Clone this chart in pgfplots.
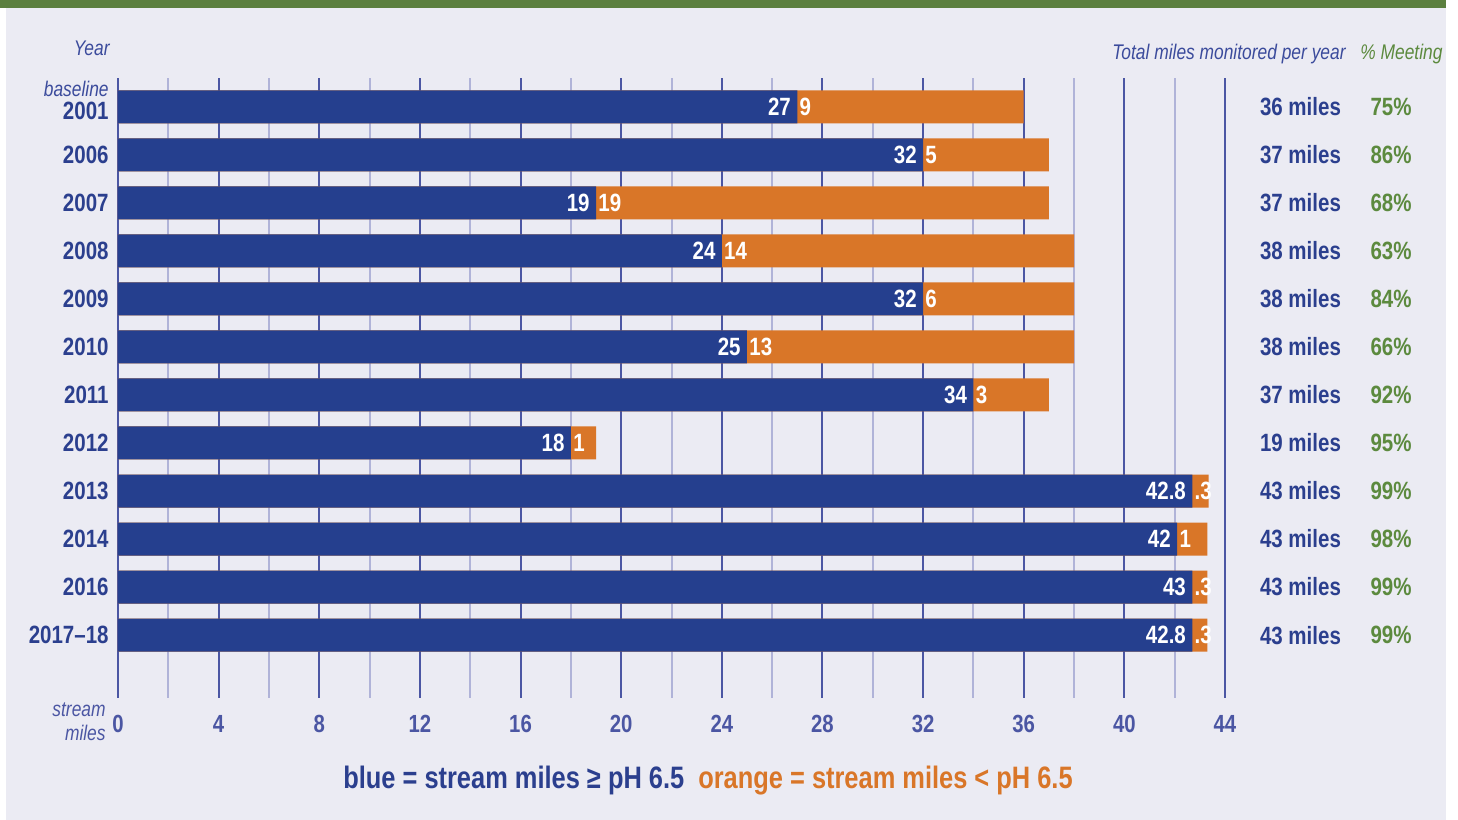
\documentclass[border=0pt]{standalone}
\usepackage{pgfplots}
\pgfplotsset{compat=1.18}
\usepackage{pgfplotstable}
\usepackage{fontspec}
\setmainfont{Liberation Sans}[FakeStretch=0.82]
\definecolor{bg}{HTML}{EBEBF3}
\definecolor{topgreen}{HTML}{5B7F3F}
\definecolor{barblue}{HTML}{253F8E}
\definecolor{barorange}{HTML}{D97628}
\definecolor{txtblue}{HTML}{2B3F8E}
\definecolor{tickblue}{HTML}{4B56A3}
\definecolor{hdrblue}{HTML}{3B4B9C}
\definecolor{txtgreen}{HTML}{5C8A3E}
\definecolor{gridD}{HTML}{4B56A3}
\definecolor{gridL}{HTML}{B0B3D8}
\newcommand\fbar{\fontsize{12.5}{14}\selectfont\bfseries}
\newcommand\ftick{\fontsize{12.4}{14}\selectfont\bfseries}
\newcommand\fhdr{\fontsize{10.6}{12}\selectfont\itshape}
\newcommand\flegend{\fontsize{15.5}{18}\selectfont\bfseries}

% blue = drawn length of the blue segment, total = drawn end of the orange segment
\pgfplotstableread{
idx blue total bl ol miles pct
0 27 36 27 9 36 75
1 32 37 32 5 37 86
2 19 37 19 19 37 68
3 24 38 24 14 38 63
4 32 38 32 6 38 84
5 25 38 25 13 38 66
6 34 37 34 3 37 92
7 18 19 18 1 19 95
8 42.7 43.35 42.8 .3 43 99
9 42.1 43.3 42 1 43 98
10 42.7 43.3 43 .3 43 99
11 42.7 43.3 42.8 .3 43 99
}\datatable

\begin{document}
\begin{tikzpicture}[x=1pt,y=1pt]
\useasboundingbox (0,0) rectangle (729,410);
\fill[white] (0,0) rectangle (729,410);
\fill[bg] (3,0) rectangle (723,406);
\fill[topgreen] (0,406) rectangle (723,410);
\begin{axis}[
  at={(59pt,61pt)}, anchor=south west,
  scale only axis, width=553.5pt, height=310pt,
  xmin=0, xmax=44, ymin=-0.6, ymax=12.31, y dir=reverse,
  clip=false,
  axis line style={draw=none},
  major tick length=0pt, minor tick length=0pt,
  xtick={0,4,...,44}, minor xtick={2,6,...,42},
  xmajorgrids, xminorgrids,
  major grid style={gridD, line width=1pt},
  minor grid style={gridL, line width=1pt},
  ytick={0,...,11},
  yticklabels={\raisebox{-2.2pt}[\height][0pt]{2001},2006,2007,2008,2009,2010,2011,2012,2013,2014,2016,2017–18},
  xticklabel style={font=\ftick, color=tickblue, anchor=north, inner sep=0pt, yshift=-8.5pt},
  yticklabel style={font=\fbar, color=txtblue, anchor=east, inner sep=0pt, xshift=-4.5pt},
  /pgf/number format/assume math mode=true,
]
\addplot[xbar, bar width=16.5pt, bar shift=0pt, fill=barorange, draw=none] table[x=total, y=idx] {\datatable};
\addplot[xbar, bar width=16.5pt, bar shift=0pt, fill=barblue, draw=none] table[x=blue, y=idx] {\datatable};
\addplot[draw=none, mark=none, point meta=explicit symbolic, nodes near coords,
  every node near coord/.append style={anchor=east, xshift=-3pt, font=\fbar, text=white, inner sep=0pt}]
  table[x=blue, y=idx, meta=bl] {\datatable};
\addplot[draw=none, mark=none, point meta=explicit symbolic, nodes near coords,
  every node near coord/.append style={anchor=west, xshift=1pt, font=\fbar, text=white, inner sep=0pt}]
  table[x=blue, y=idx, meta=ol] {\datatable};
\addplot[draw=none, mark=none, point meta=explicit symbolic, nodes near coords={\pgfplotspointmeta\ miles},
  every node near coord/.append style={anchor=center, font=\fbar, text=txtblue, inner sep=0pt}]
  table[x expr=47.0, y=idx, meta=miles] {\datatable};
\addplot[draw=none, mark=none, point meta=explicit symbolic, nodes near coords={\pgfplotspointmeta\%},
  every node near coord/.append style={anchor=center, font=\fbar, text=txtgreen, inner sep=0pt}]
  table[x expr=50.6, y=idx, meta=pct] {\datatable};
\end{axis}
\node[anchor=base east, inner sep=0pt, font=\fhdr, text=hdrblue] at (55,382) {Year};
\node[anchor=base east, inner sep=0pt, font=\fhdr, text=hdrblue] at (54.5,361.5) {baseline};
\node[anchor=base east, inner sep=0pt, font=\fhdr, text=hdrblue] at (673,380) {Total miles monitored per year};
\node[anchor=base west, inner sep=0pt, font=\fhdr, text=txtgreen] at (680,380) {\% Meeting};
\node[anchor=base east, inner sep=0pt, font=\fhdr, text=tickblue] at (53,51.5) {stream};
\node[anchor=base east, inner sep=0pt, font=\fhdr, text=tickblue] at (53,39.5) {miles};
\node[anchor=base, inner sep=0pt, font=\flegend] at (354,15.5) {\textcolor{txtblue}{blue = stream miles ≥ pH 6.5}\hspace{7pt}\textcolor{barorange}{orange = stream miles < pH 6.5}};
\end{tikzpicture}
\end{document}
